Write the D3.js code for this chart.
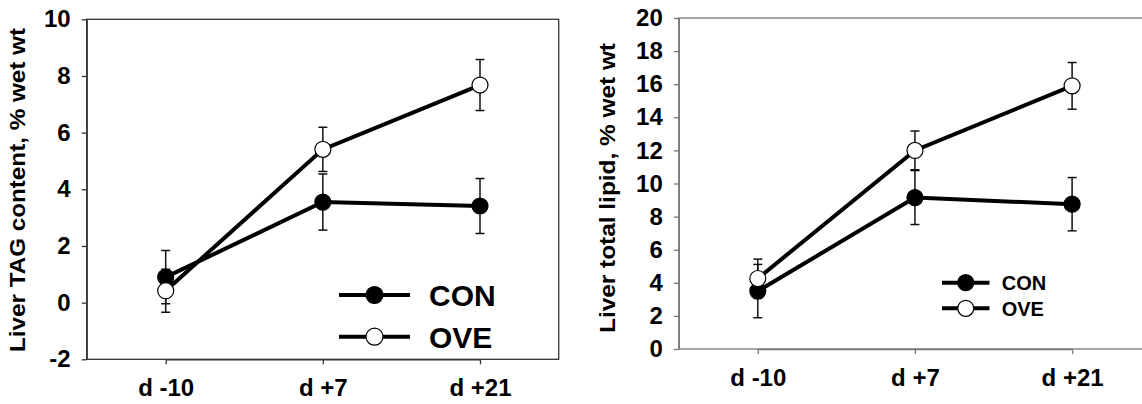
<!DOCTYPE html>
<html>
<head>
<meta charset="utf-8">
<script src="https://cdn.jsdelivr.net/npm/d3@7"></script>
<style>
  html, body { margin: 0; padding: 0; background: #fff; }
  svg { display: block; }
  svg text { font-family: "Liberation Sans", Arial, sans-serif; font-weight: bold; fill: #000; }
</style>
</head>
<body>
<svg id="chart" width="1142" height="404"></svg>
<script>
// Sampling days
const days = ["d -10", "d +7", "d +21"];

// Liver TAG content (% wet wt), mean and SE
const tagCON = [0.90, 3.55, 3.41];
const tagCONse = [0.94, 0.99, 0.97];
const tagOVE = [0.42, 5.41, 7.68];
const tagOVEse = [0.76, 0.78, 0.90];
const tagTicks = [-2, 0, 2, 4, 6, 8, 10];

// Liver total lipid (% wet wt), mean and SE
const lipCON = [3.50, 9.15, 8.75];
const lipCONse = [1.61, 1.63, 1.61];
const lipOVE = [4.26, 12.00, 15.90];
const lipOVEse = [1.17, 1.17, 1.41];
const lipTicks = [0, 2, 4, 6, 8, 10, 12, 14, 16, 18, 20];

const groups = ["CON", "OVE"];

const svg = d3.select("#chart");

function panel(cfg) {
  const g = svg.append("g");
  const x = d3.scalePoint().domain(days).range([cfg.x0 + 79, cfg.x0 + 393.3]);
  const y = d3.scaleLinear().domain(cfg.domain).range([cfg.y1, cfg.y0]);

  // frame
  g.append("rect")
    .attr("x", cfg.x0).attr("y", cfg.y0)
    .attr("width", 472).attr("height", cfg.y1 - cfg.y0)
    .attr("fill", "none").attr("stroke", cfg.frame).attr("stroke-width", 1.3);

  const yAxis = g.append("g")
    .attr("transform", `translate(${cfg.x0},0)`)
    .call(d3.axisLeft(y).tickValues(cfg.ticks).tickFormat(d => String(d))
      .tickSize(5).tickSizeOuter(0).tickPadding(11));
  const xAxis = g.append("g")
    .attr("transform", `translate(0,${cfg.y1})`)
    .call(d3.axisBottom(x).tickSize(5).tickSizeOuter(0).tickPadding(15));
  [yAxis, xAxis].forEach(a => {
    a.attr("font-family", null).attr("font-size", null);
    a.select(".domain").attr("stroke", cfg.frame).attr("stroke-width", 1.3);
    a.selectAll(".tick line").attr("stroke", cfg.frame).attr("stroke-width", 1.3);
    a.selectAll("text").attr("fill", "#000").attr("font-weight", "bold").style("font-size", "24px");
  });

  // y label
  g.append("text")
    .attr("transform", `translate(${cfg.labelX},${cfg.labelY}) rotate(-90)`)
    .attr("text-anchor", "middle")
    .attr("textLength", cfg.labelLen).attr("lengthAdjust", "spacingAndGlyphs")
    .style("font-size", "22px")
    .text(cfg.label);

  const series = [
    { name: "CON", v: cfg.con, se: cfg.conSE, fill: "#000" },
    { name: "OVE", v: cfg.ove, se: cfg.oveSE, fill: "#fff" }
  ];

  // error bars
  series.forEach(s => {
    const eb = g.append("g").attr("stroke", "#111").attr("stroke-width", 1.5);
    s.v.forEach((v, i) => {
      const cx = x(days[i]);
      eb.append("line").attr("x1", cx).attr("x2", cx).attr("y1", y(v + s.se[i])).attr("y2", y(v - s.se[i]));
      [v + s.se[i], v - s.se[i]].forEach(e => {
        eb.append("line").attr("x1", cx - 4.5).attr("x2", cx + 4.5).attr("y1", y(e)).attr("y2", y(e));
      });
    });
  });

  // lines
  const line = d3.line().x((d, i) => x(days[i])).y(d => y(d));
  series.forEach(s => {
    g.append("path").datum(s.v).attr("d", line)
      .attr("fill", "none").attr("stroke", "#000").attr("stroke-width", 4);
  });

  // markers
  series.forEach(s => {
    g.selectAll(null).data(s.v).enter().append("circle")
      .attr("cx", (d, i) => x(days[i])).attr("cy", d => y(d)).attr("r", 8)
      .attr("fill", s.fill).attr("stroke", "#000").attr("stroke-width", 1.2);
  });

  // legend
  const lg = g.append("g");
  groups.forEach((name, k) => {
    const ly = cfg.leg.y[k];
    const s = series[k];
    lg.append("line").attr("x1", cfg.leg.x1).attr("x2", cfg.leg.x2).attr("y1", ly).attr("y2", ly)
      .attr("stroke", "#000").attr("stroke-width", 4);
    lg.append("circle").attr("cx", (cfg.leg.x1 + cfg.leg.x2) / 2).attr("cy", ly).attr("r", cfg.leg.r)
      .attr("fill", s.fill).attr("stroke", "#000").attr("stroke-width", 1.2);
    lg.append("text").attr("x", cfg.leg.tx).attr("y", ly).attr("dy", "0.36em")
      .style("font-size", cfg.leg.fs + "px").text(name);
  });
}

panel({
  x0: 86.7, y0: 19.3, y1: 359.3, domain: [-2, 10], ticks: tagTicks, frame: "#333",
  con: tagCON, conSE: tagCONse, ove: tagOVE, oveSE: tagOVEse,
  label: "Liver TAG content, % wet wt", labelX: 25, labelY: 190, labelLen: 324,
  leg: { x1: 339, x2: 410, y: [295, 336.7], r: 8.5, tx: 429, fs: 30 }
});

panel({
  x0: 678.8, y0: 18, y1: 349, domain: [0, 20], ticks: lipTicks, frame: "#777",
  con: lipCON, conSE: lipCONse, ove: lipOVE, oveSE: lipOVEse,
  label: "Liver total lipid, % wet wt", labelX: 615, labelY: 188, labelLen: 290,
  leg: { x1: 942, x2: 989.5, y: [282.7, 308.3], r: 8, tx: 1001.7, fs: 20 }
});
</script>
</body>
</html>
